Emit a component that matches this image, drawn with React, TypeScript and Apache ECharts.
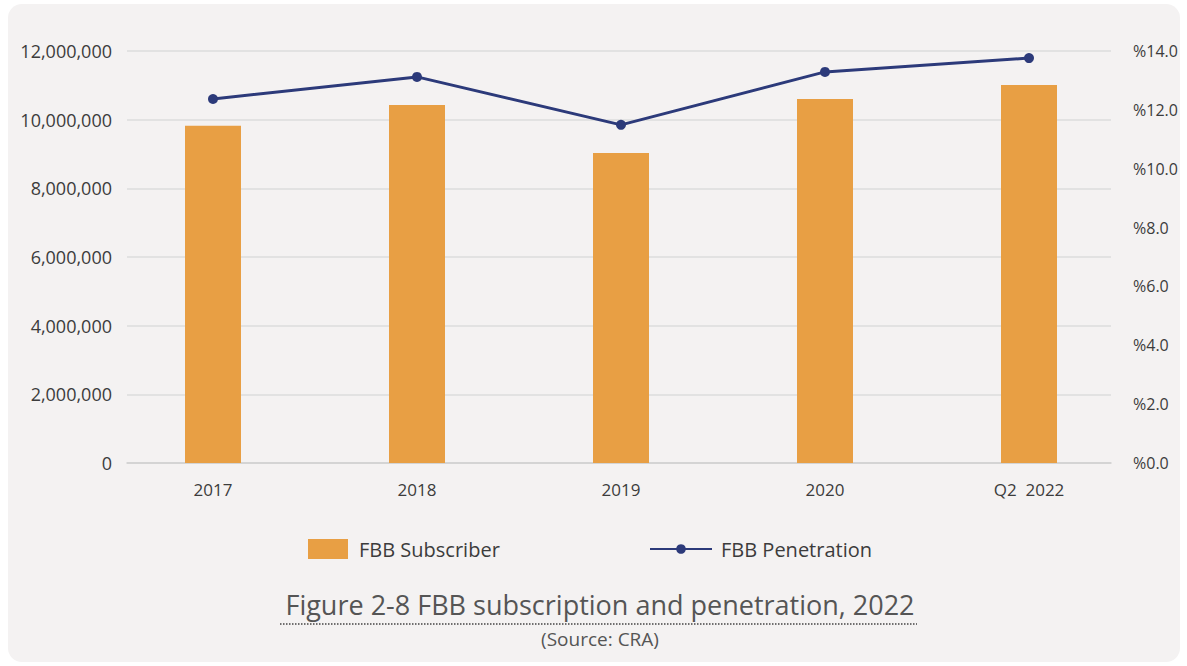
import React, { useEffect, useRef } from "react";
import * as echarts from "echarts";

const categories = ["2017", "2018", "2019", "2020", "Q2  2022"];
const subscribers = [9820000, 10430000, 9030000, 10600000, 11010000];
const penetration = [12.37, 13.12, 11.49, 13.29, 13.76];
const subscriberName = "FBB Subscriber";
const penetrationName = "FBB Penetration";
const titleText = "Figure 2-8 FBB subscription and penetration, 2022";
const sourceText = "(Source: CRA)";

const FONT = "'Open Sans', 'Noto Sans', sans-serif";
const BAR = "#E89F44";
const LINE = "#2C3A7A";
const TEXT = "#3c3c3c";

export default function App() {
  const ref = useRef<HTMLDivElement>(null);
  useEffect(() => {
    if (!ref.current) return;
    const chart = echarts.init(ref.current, undefined, { renderer: "svg" });
    const option: any = {
      animation: false,
      backgroundColor: "#ffffff",
      textStyle: { fontFamily: FONT },
      graphic: [
        {
          type: "rect",
          z: -10,
          shape: { x: 8, y: 4, width: 1172, height: 658, r: 14 },
          style: { fill: "#F4F2F2" },
          silent: true,
        },
        {
          type: "text",
          x: 600,
          y: 604,
          style: {
            text: titleText,
            fontFamily: FONT,
            fontSize: 27,
            fill: "#555555",
            align: "center",
            verticalAlign: "middle",
          },
        },
        {
          type: "line",
          shape: { x1: 280, y1: 624, x2: 917, y2: 624 },
          style: { stroke: "#444444", lineWidth: 1.5, lineDash: [1.5, 1.5] },
        },
        {
          type: "text",
          x: 600,
          y: 639,
          style: {
            text: sourceText,
            fontFamily: FONT,
            fontSize: 19,
            fill: "#555555",
            align: "center",
            verticalAlign: "middle",
          },
        },
      ],
      legend: [
        {
          data: [subscriberName],
          left: 303,
          top: 534,
          itemWidth: 40,
          itemHeight: 20,
          icon: "rect",
          textStyle: { fontFamily: FONT, fontSize: 20, color: TEXT, padding: [0, 0, 0, 6] },
        },
        {
          data: [penetrationName],
          left: 644,
          top: 534,
          itemWidth: 62,
          itemHeight: 12,
          textStyle: { fontFamily: FONT, fontSize: 20, color: TEXT, padding: [0, 0, 0, 4] },
        },
      ],
      grid: [
        { left: 127, right: 76, top: 51, bottom: 203 },
        { left: 111, right: 56, top: 51, bottom: 203 },
      ],
      xAxis: [
        {
          gridIndex: 0,
          type: "category",
          data: categories,
          axisLine: { show: true, lineStyle: { color: "#cfcfcf", width: 1.5 } },
          axisTick: { show: false },
          axisLabel: { show: false },
        },
        {
          gridIndex: 1,
          type: "category",
          data: categories,
          axisLine: { show: false },
          axisTick: { show: false },
          axisLabel: { margin: 18, fontSize: 17, color: TEXT, fontFamily: FONT },
        },
      ],
      yAxis: [
        {
          gridIndex: 0,
          type: "value",
          min: 0,
          max: 12000000,
          interval: 2000000,
          axisLine: { show: false },
          axisTick: { show: false },
          splitLine: { lineStyle: { color: "#dcdcdc", width: 1.5 } },
          axisLabel: {
            margin: 15,
            fontSize: 18,
            color: TEXT,
            fontFamily: FONT,
            formatter: (v: number) => v.toLocaleString("en-US"),
          },
        },
        {
          gridIndex: 0,
          type: "value",
          position: "right",
          min: 0,
          max: 14,
          interval: 2,
          axisLine: { show: false },
          axisTick: { show: false },
          splitLine: { show: false },
          axisLabel: {
            margin: 22,
            fontSize: 16,
            color: TEXT,
            fontFamily: FONT,
            formatter: (v: number) => "%" + v.toFixed(1),
          },
        },
        { gridIndex: 1, type: "value", min: 0, max: 12000000, show: false },
        { gridIndex: 1, type: "value", min: 0, max: 14, show: false },
      ],
      series: [
        {
          name: subscriberName,
          type: "bar",
          xAxisIndex: 1,
          yAxisIndex: 2,
          data: subscribers,
          barWidth: 56,
          itemStyle: { color: BAR },
        },
        {
          name: penetrationName,
          type: "line",
          xAxisIndex: 1,
          yAxisIndex: 3,
          data: penetration,
          symbol: "circle",
          symbolSize: 10,
          lineStyle: { color: LINE, width: 3 },
          itemStyle: { color: LINE },
        },
      ],
    };
    chart.setOption(option);
    return () => chart.dispose();
  }, []);
  return (
    <div
      ref={ref}
      style={{ position: "fixed", left: 0, top: 0, width: 1187, height: 666 }}
    />
  );
}
